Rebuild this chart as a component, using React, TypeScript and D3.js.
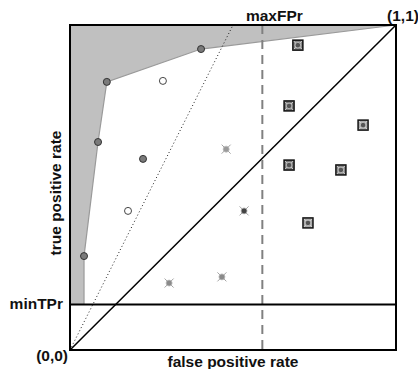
import { useEffect, useRef } from "react";
import * as d3 from "d3";

const W = 418, H = 369;
const X0 = 70, X1 = 396, Y0 = 350, Y1 = 25;

const MIN_TPR = 0.14;
const MAX_FPR = 0.59;
const DOT_SLOPE = 2;

// [fpr, tpr]
const hullPts: [number, number][] = [
  [0.043, 0.289], [0.086, 0.64], [0.113, 0.825], [0.402, 0.926],
];
const grayPts: [number, number][] = [[0.224, 0.588]];
const openPts: [number, number][] = [[0.285, 0.828], [0.178, 0.428]];
const crossPts: [number, number, string][] = [
  [0.479, 0.618, "#9a9a9a"], [0.534, 0.428, "#444"],
  [0.304, 0.206, "#8a8a8a"], [0.466, 0.225, "#8a8a8a"],
];
const boxPts: [number, number, string][] = [
  [0.699, 0.938, "#888"], [0.672, 0.751, "#777"], [0.899, 0.692, "#aaa"],
  [0.672, 0.569, "#777"], [0.831, 0.554, "#888"], [0.730, 0.391, "#aaa"],
];

export default function App() {
  const ref = useRef<SVGSVGElement>(null);

  useEffect(() => {
    const svg = d3.select(ref.current!);
    svg.selectAll("*").remove();
    const x = d3.scaleLinear().domain([0, 1]).range([X0, X1]);
    const y = d3.scaleLinear().domain([0, 1]).range([Y0, Y1]);
    const font = "'Liberation Sans', Arial, sans-serif";

    // Shaded region left of the hull, above minTPr
    const poly: [number, number][] = [
      [0, MIN_TPR], [hullPts[0][0], MIN_TPR], ...hullPts, [1, 1], [0, 1],
    ];
    svg.append("path")
      .attr("d", d3.line<[number, number]>().x(d => x(d[0])).y(d => y(d[1]))(poly) + "Z")
      .attr("fill", "#c0c0c0");
    const edge: [number, number][] = [[hullPts[0][0], MIN_TPR], ...hullPts, [1, 1]];
    svg.append("path")
      .attr("d", d3.line<[number, number]>().x(d => x(d[0])).y(d => y(d[1]))(edge))
      .attr("fill", "none").attr("stroke", "#9a9a9a").attr("stroke-width", 1.2);

    // dotted iso line
    svg.append("line")
      .attr("x1", x(0)).attr("y1", y(0)).attr("x2", x(1 / DOT_SLOPE)).attr("y2", y(1))
      .attr("stroke", "#222").attr("stroke-width", 1).attr("stroke-dasharray", "1,2.5");

    // diagonal
    svg.append("line")
      .attr("x1", x(0)).attr("y1", y(0)).attr("x2", x(1)).attr("y2", y(1))
      .attr("stroke", "#000").attr("stroke-width", 1.5);

    // maxFPr dashed
    svg.append("line")
      .attr("x1", x(MAX_FPR)).attr("y1", y(1)).attr("x2", x(MAX_FPR)).attr("y2", y(0))
      .attr("stroke", "#808080").attr("stroke-width", 2).attr("stroke-dasharray", "9,6");

    // minTPr line
    svg.append("line")
      .attr("x1", x(0)).attr("y1", y(MIN_TPR)).attr("x2", x(1)).attr("y2", y(MIN_TPR))
      .attr("stroke", "#000").attr("stroke-width", 1.8);

    // frame
    svg.append("rect")
      .attr("x", X0).attr("y", Y1).attr("width", X1 - X0).attr("height", Y0 - Y1)
      .attr("fill", "none").attr("stroke", "#000").attr("stroke-width", 2);

    // squares
    for (const [f, t, c] of boxPts) {
      const cx = x(f), cy = y(t);
      const g = svg.append("g");
      g.append("rect").attr("x", cx - 5).attr("y", cy - 5).attr("width", 10).attr("height", 10)
        .attr("fill", c).attr("stroke", "#111").attr("stroke-width", 1.5);
      g.append("path").attr("d", `M${cx - 4},${cy - 4}L${cx + 4},${cy + 4}M${cx + 4},${cy - 4}L${cx - 4},${cy + 4}`)
        .attr("stroke", "#ddd").attr("stroke-width", 0.8);
      g.append("circle").attr("cx", cx).attr("cy", cy).attr("r", 2.8)
        .attr("fill", "#555").attr("stroke", "#ccc").attr("stroke-width", 0.8);
    }

    // crossed circles
    for (const [f, t, c] of crossPts) {
      const cx = x(f), cy = y(t);
      const g = svg.append("g");
      g.append("path").attr("d", `M${cx - 4.5},${cy - 4.5}L${cx + 4.5},${cy + 4.5}M${cx + 4.5},${cy - 4.5}L${cx - 4.5},${cy + 4.5}`)
        .attr("stroke", "#999").attr("stroke-width", 0.9);
      g.append("circle").attr("cx", cx).attr("cy", cy).attr("r", 3)
        .attr("fill", c).attr("stroke", "#bbb").attr("stroke-width", 0.8);
    }

    // hull / gray points
    for (const [f, t] of [...hullPts, ...grayPts]) {
      svg.append("circle").attr("cx", x(f)).attr("cy", y(t)).attr("r", 3.5)
        .attr("fill", "#7a7a7a").attr("stroke", "#333").attr("stroke-width", 1);
    }
    for (const [f, t] of openPts) {
      svg.append("circle").attr("cx", x(f)).attr("cy", y(t)).attr("r", 3.5)
        .attr("fill", "#fff").attr("stroke", "#444").attr("stroke-width", 1);
    }

    const txt = (tx: number, ty: number, s: string, anchor = "middle") =>
      svg.append("text").attr("x", tx).attr("y", ty).attr("text-anchor", anchor)
        .attr("font-family", font).attr("font-weight", 700).attr("font-size", 15.5)
        .attr("fill", "#111").text(s);

    txt(x(MAX_FPR) + 12, 21, "maxFPr");
    txt(403, 21, "(1,1)");
    txt(68, 361, "(0,0)", "end");
    txt(63, 309, "minTPr", "end");
    txt(233, 367, "false positive rate");
    txt(0, 0, "true positive rate")
      .attr("transform", `translate(61,${193}) rotate(-90)`);
  }, []);

  return (
    <div style={{ position: "fixed", left: 0, top: 0 }}>
      <svg ref={ref} width={W} height={H} style={{ display: "block", background: "#fff" }} />
    </div>
  );
}
